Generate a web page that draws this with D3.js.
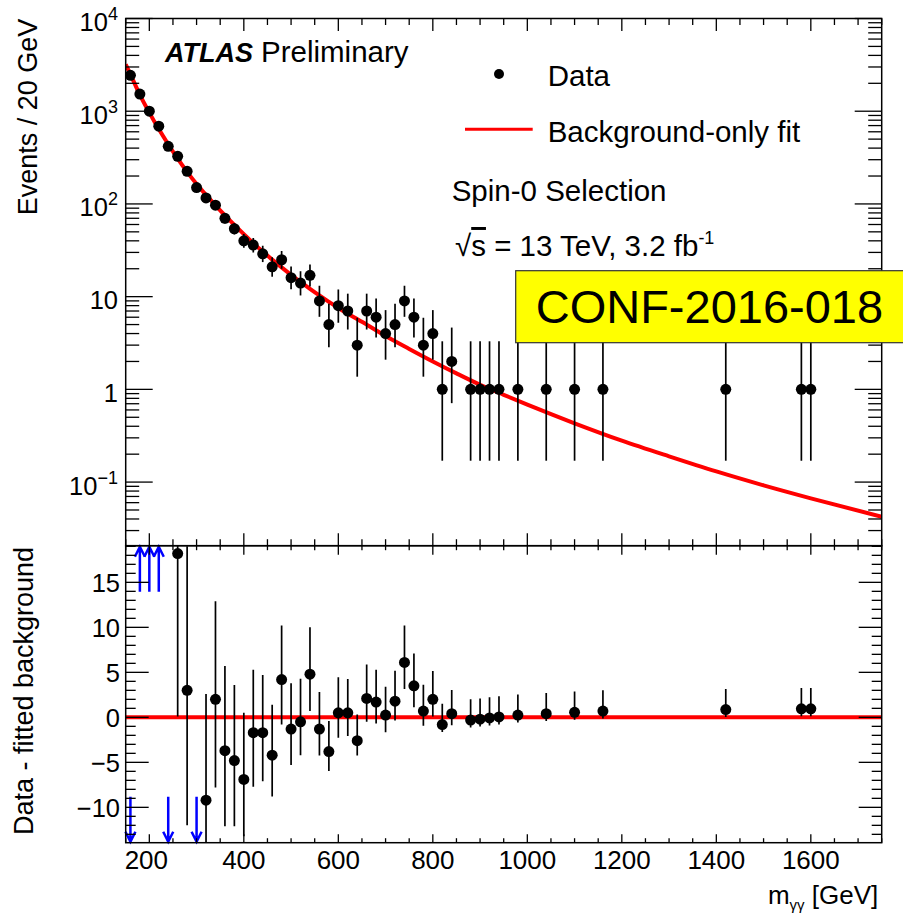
<!DOCTYPE html>
<html>
<head>
<meta charset="utf-8">
<script src="https://cdn.jsdelivr.net/npm/d3@7"></script>
<style>
  body { margin: 0; background: #fff; }
  text { font-family: "Liberation Sans", Arial, Helvetica, sans-serif; fill: #000; }
</style>
</head>
<body>
<div id="chart"></div>
<script>
// Drawing space
const width = 903, height = 914;
const frame = { left: 125.7, right: 881.7, top: 18.5, split: 545.7, bottom: 842.7 };

// Data: diphoton mass bins (GeV) with at least one event
const massBins = [160, 180, 200, 220, 240, 260, 280, 300, 320, 340, 360, 380, 400, 420, 440, 460, 480, 500,
  520, 540, 560, 580, 600, 620, 640, 660, 680, 700, 720, 740, 760, 780, 800, 820, 840, 880, 900, 920, 940,
  980, 1040, 1100, 1160, 1420, 1580, 1600];
const eventCounts = [2440, 1530, 1000, 690, 418, 326, 225, 150, 116, 97, 70, 54, 40, 36, 29, 21, 25, 16,
  14, 17, 9, 5, 8, 7, 3, 7, 6, 4, 5, 9, 6, 3, 4, 1, 2, 1, 1, 1, 1,
  1, 1, 1, 1, 1, 1, 1];
// asymmetric (Poisson) errors on the counts
const errLow = [49.4, 39.1, 31.6, 26.3, 20.4, 18.1, 15.0, 12.2, 10.8, 9.8, 8.4, 7.3, 6.3, 6.0, 5.4, 4.6, 5.0, 4.0,
  3.7, 4.1, 2.94, 2.16, 2.77, 2.58, 1.63, 2.58, 2.38, 1.91, 2.16, 2.94, 2.38, 1.63, 1.91, 0.83, 1.29, 0.83, 0.83, 0.83, 0.83,
  0.83, 0.83, 0.83, 0.83, 0.83, 0.83, 0.83];
const errHigh = [50.4, 40.1, 32.6, 27.3, 21.4, 19.1, 16.0, 13.3, 11.8, 10.9, 9.4, 8.4, 7.4, 7.0, 6.4, 5.6, 6.0, 5.1,
  4.8, 5.2, 4.11, 3.38, 3.95, 3.77, 2.92, 3.77, 3.58, 3.16, 3.38, 4.11, 3.58, 2.92, 3.16, 2.30, 2.64, 2.30, 2.30, 2.30, 2.30,
  2.30, 2.30, 2.30, 2.30, 2.30, 2.30, 2.30];
// data - fitted background
const residuals = [-60, 30, 34, 48, -22, 18.2, 3.0, -14.5, -9.2, 2.0, -3.7, -4.8, -6.9, -1.7, -1.7, -4.2, 4.2, -1.3,
  -0.5, 4.8, -1.3, -3.8, 0.5, 0.5, -2.6, 2.1, 1.7, 0.25, 1.8, 6.1, 3.5, 0.7, 2.0, -0.8, 0.4, -0.3, -0.2, -0.07, 0.04,
  0.25, 0.41, 0.56, 0.7, 0.86, 0.95, 0.95];

// Background-only fit
const fitMass = [150, 160, 180, 200, 220, 240, 260, 280, 300, 320, 340, 360, 380, 400, 420, 440, 460, 480, 500,
  520, 540, 560, 580, 600, 650, 700, 750, 800, 850, 900, 950, 1000, 1100, 1200, 1300, 1400, 1500, 1600, 1750];
const fitValues = [3200, 2500, 1500, 966, 642, 440, 308, 222, 164, 125, 96.5, 75.3, 59.4, 47.2, 37.8, 30.7, 25.1, 20.7, 17.2,
  14.4, 12.15, 10.3, 8.8, 7.55, 5.35, 3.76, 2.73, 2.00, 1.488, 1.122, 0.873, 0.684, 0.431, 0.280, 0.1895, 0.1303, 0.0922, 0.0668, 0.0423];

// Tick labels
const xTickValues = [200, 400, 600, 800, 1000, 1200, 1400, 1600];
const topTickValues = [0.1, 1, 10, 100, 1000, 10000];
const topTickBase = ["10", "1", "10", "10", "10", "10"];
const topTickExp = ["\u22121", "", "", "2", "3", "4"];
const resTickValues = [-10, -5, 0, 5, 10, 15];
const resTickLabels = ["\u221210", "\u22125", "0", "5", "10", "15"];

// Scales
const xScale = d3.scaleLinear().domain([150, 1750]).range([frame.left, frame.right]);
const yTop = d3.scaleLog().domain([0.0206, 1e4]).range([frame.split, frame.top]);
const yBot = d3.scaleLinear().domain([-13.93, 19.07]).range([frame.bottom, frame.split]);

const points = massBins.map((m, i) => ({
  m: m, n: eventCounts[i], lo: errLow[i], hi: errHigh[i], r: residuals[i]
}));
const fitData = fitMass.map((m, i) => ({ m: m, v: fitValues[i] }));

const svg = d3.select("#chart").append("svg")
  .attr("width", width)
  .attr("height", height);

const defs = svg.append("defs");
defs.append("clipPath").attr("id", "clipTop").append("rect")
  .attr("x", frame.left).attr("y", frame.top)
  .attr("width", frame.right - frame.left).attr("height", frame.split - frame.top);
defs.append("clipPath").attr("id", "clipBot").append("rect")
  .attr("x", frame.left).attr("y", frame.split)
  .attr("width", frame.right - frame.left).attr("height", frame.bottom - frame.split);

// ---------- top panel ----------
const topPanel = svg.append("g").attr("clip-path", "url(#clipTop)");

const fitLine = d3.line()
  .x(d => xScale(d.m))
  .y(d => yTop(d.v))
  .curve(d3.curveMonotoneX);

topPanel.append("path")
  .datum(fitData)
  .attr("d", fitLine)
  .attr("fill", "none")
  .attr("stroke", "#ff0000")
  .attr("stroke-width", 4);

topPanel.selectAll(".ebar")
  .data(points)
  .join("line")
  .attr("class", "ebar")
  .attr("x1", d => xScale(d.m)).attr("x2", d => xScale(d.m))
  .attr("y1", d => yTop(d.n - d.lo)).attr("y2", d => yTop(d.n + d.hi))
  .attr("stroke", "#000").attr("stroke-width", 1.7);

topPanel.selectAll(".dot")
  .data(points)
  .join("circle")
  .attr("class", "dot")
  .attr("cx", d => xScale(d.m))
  .attr("cy", d => yTop(d.n))
  .attr("r", 5.5)
  .attr("fill", "#000");

// ---------- bottom panel ----------
const botPanel = svg.append("g").attr("clip-path", "url(#clipBot)");
const [rMin, rMax] = yBot.domain();
const inRange = points.filter(d => d.r >= rMin && d.r <= rMax);

botPanel.append("line")
  .attr("x1", frame.left).attr("x2", frame.right)
  .attr("y1", yBot(0)).attr("y2", yBot(0))
  .attr("stroke", "#ff0000").attr("stroke-width", 4);

botPanel.selectAll(".rbar")
  .data(inRange)
  .join("line")
  .attr("class", "rbar")
  .attr("x1", d => xScale(d.m)).attr("x2", d => xScale(d.m))
  .attr("y1", d => yBot(d.r - d.lo)).attr("y2", d => yBot(d.r + d.hi))
  .attr("stroke", "#000").attr("stroke-width", 1.7);

botPanel.selectAll(".rdot")
  .data(inRange)
  .join("circle")
  .attr("class", "rdot")
  .attr("cx", d => xScale(d.m))
  .attr("cy", d => yBot(d.r))
  .attr("r", 5.5)
  .attr("fill", "#000");

// out-of-range residuals -> blue arrows
const arrowLen = 45, headW = 5, headL = 10;
svg.selectAll(".arrow")
  .data(points.filter(d => d.r > rMax || d.r < rMin))
  .join("path")
  .attr("class", "arrow")
  .attr("d", d => {
    const xp = xScale(d.m);
    if (d.r > rMax) {
      const tip = yBot(rMax) + 1;
      return `M${xp},${tip + arrowLen}L${xp},${tip}M${xp - headW},${tip + headL}L${xp},${tip}L${xp + headW},${tip + headL}`;
    }
    const tip = yBot(rMin) - 1;
    return `M${xp},${tip - arrowLen}L${xp},${tip}M${xp - headW},${tip - headL}L${xp},${tip}L${xp + headW},${tip - headL}`;
  })
  .attr("fill", "none")
  .attr("stroke", "#0000ff")
  .attr("stroke-width", 2.5);

// ---------- frames and ticks ----------
const axes = svg.append("g").attr("stroke", "#000").attr("fill", "none");

function xTicks(yPos, dir, majLen, minLen) {
  axes.selectAll(null)
    .data(xScale.ticks(32))
    .join("line")
    .attr("x1", d => xScale(d)).attr("x2", d => xScale(d))
    .attr("y1", yPos)
    .attr("y2", d => yPos + dir * (d % 200 === 0 ? majLen : minLen))
    .attr("stroke-width", 1.3);
}
function yTicks(scale, ticks, isMajor, majLen, minLen) {
  [[frame.left, 1], [frame.right, -1]].forEach(([xPos, dir]) => {
    axes.selectAll(null)
      .data(ticks)
      .join("line")
      .attr("x1", xPos)
      .attr("x2", d => xPos + dir * (isMajor(d) ? majLen : minLen))
      .attr("y1", d => scale(d)).attr("y2", d => scale(d))
      .attr("stroke-width", 1.3);
  });
}

const isDecade = v => Math.abs(Math.log10(v) - Math.round(Math.log10(v))) < 1e-6;
xTicks(frame.top, 1, 12.5, 6.5);
xTicks(frame.split, -1, 12.5, 6.5);
xTicks(frame.split, 1, 9, 4.5);
xTicks(frame.bottom, -1, 8.5, 4.5);
yTicks(yTop, yTop.ticks(), isDecade, 27, 13.5);
yTicks(yBot, yBot.ticks(33), v => v % 5 === 0, 23, 10);

axes.append("rect")
  .attr("x", frame.left).attr("y", frame.top)
  .attr("width", frame.right - frame.left).attr("height", frame.split - frame.top)
  .attr("stroke-width", 1.5);
axes.append("rect")
  .attr("x", frame.left).attr("y", frame.split)
  .attr("width", frame.right - frame.left).attr("height", frame.bottom - frame.split)
  .attr("stroke-width", 1.5);

// ---------- tick labels ----------
const labelSize = 25.5;
const topLabels = svg.selectAll(".toplab")
  .data(topTickValues)
  .join("text")
  .attr("class", "toplab")
  .attr("x", 118)
  .attr("y", d => yTop(d) + 12.5)
  .attr("text-anchor", "end")
  .attr("font-size", labelSize);
topLabels.append("tspan").text((d, i) => topTickBase[i]);
topLabels.append("tspan")
  .attr("dy", -11)
  .attr("font-size", 18)
  .text((d, i) => topTickExp[i]);

svg.selectAll(".reslab")
  .data(resTickValues)
  .join("text")
  .attr("class", "reslab")
  .attr("x", 120)
  .attr("y", d => yBot(d) + 9.5)
  .attr("text-anchor", "end")
  .attr("font-size", labelSize)
  .text((d, i) => resTickLabels[i]);

svg.selectAll(".xlab")
  .data(xTickValues)
  .join("text")
  .attr("class", "xlab")
  .attr("x", d => xScale(d) - (d === 200 ? 3 : 0))
  .attr("y", 869.3)
  .attr("text-anchor", "middle")
  .attr("font-size", 26)
  .text(d => d);

// axis titles
svg.append("text")
  .attr("transform", "translate(36.7,117) rotate(-90)")
  .attr("text-anchor", "middle")
  .attr("font-size", 27)
  .text("Events / 20 GeV");

svg.append("text")
  .attr("transform", "translate(33,691) rotate(-90)")
  .attr("text-anchor", "middle")
  .attr("font-size", 27)
  .text("Data - fitted background");

const xTitle = svg.append("text")
  .attr("x", 878.3).attr("y", 904)
  .attr("text-anchor", "end")
  .attr("font-size", 26);
xTitle.append("tspan").text("m");
xTitle.append("tspan").attr("dy", 6).attr("font-size", 15).text("\u03b3\u03b3");
xTitle.append("tspan").attr("dy", -6).text(" [GeV]");

// ---------- labels and legend ----------
svg.append("text")
  .attr("x", 165).attr("y", 62.3)
  .attr("font-size", 27).attr("font-weight", "bold").attr("font-style", "italic")
  .text("ATLAS");
svg.append("text")
  .attr("x", 261).attr("y", 62.3)
  .attr("font-size", 29.5)
  .text("Preliminary");

svg.append("circle")
  .attr("cx", 499).attr("cy", 74).attr("r", 5)
  .attr("fill", "#000");
svg.append("text")
  .attr("x", 547.7).attr("y", 86)
  .attr("font-size", 29.5)
  .text("Data");

svg.append("line")
  .attr("x1", 465).attr("x2", 532.7)
  .attr("y1", 129.3).attr("y2", 129.3)
  .attr("stroke", "#ff0000").attr("stroke-width", 3);
svg.append("text")
  .attr("x", 547.7).attr("y", 141.7)
  .attr("font-size", 29.5)
  .text("Background-only fit");

svg.append("text")
  .attr("x", 451.7).attr("y", 201)
  .attr("font-size", 29.5)
  .text("Spin-0 Selection");

const energy = svg.append("text")
  .attr("x", 455).attr("y", 256)
  .attr("font-size", 29.5);
energy.append("tspan").text("\u221a");
energy.append("tspan").style("text-decoration", "overline").text("s");
energy.append("tspan").text(" = 13 TeV, 3.2 fb");
energy.append("tspan").attr("dy", -12).attr("font-size", 18).text("-1");

// conference note box
svg.append("rect")
  .attr("x", 515.7).attr("y", 270.7)
  .attr("width", 400).attr("height", 72)
  .attr("fill", "#ffff00")
  .attr("stroke", "#333").attr("stroke-width", 1.2);
svg.append("text")
  .attr("x", 535.7).attr("y", 322.7)
  .attr("font-size", 47)
  .text("CONF-2016-018");
</script>
</body>
</html>
